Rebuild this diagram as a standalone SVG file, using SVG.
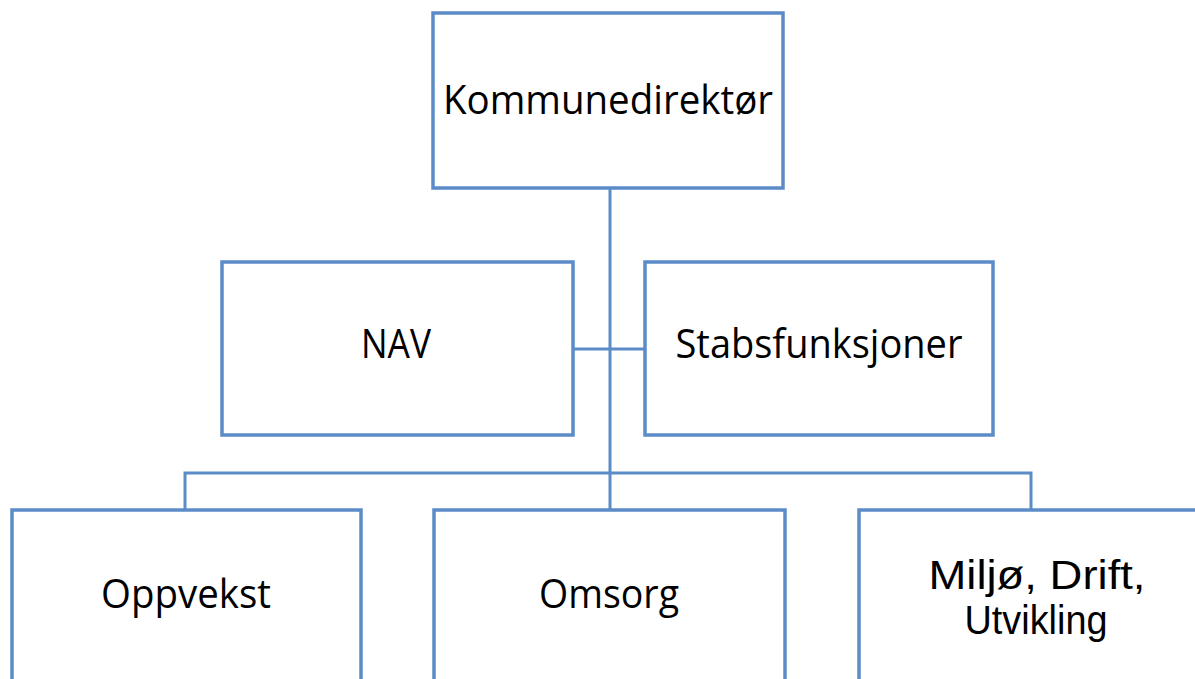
<svg xmlns="http://www.w3.org/2000/svg" width="1195" height="679" viewBox="0 0 1195 679">
<style>
.box{fill:#fff;stroke:#5B8CC8;stroke-width:3.5}
.con{fill:none;stroke:#5B8CC8;stroke-width:3}
text{font-family:"Open Sans","Liberation Sans",sans-serif;font-size:40px;fill:#000;text-anchor:middle}
text.tight{font-family:"Liberation Sans",sans-serif}
</style>
<rect width="1195" height="679" fill="#fff"/>
<g id="connectors">
<path class="con" d="M610 188 V510"/>
<path class="con" d="M573 349 H645"/>
<path class="con" d="M185 510 V473 H1031 V510"/>
</g>
<g id="kommunedirektor">
<rect class="box" x="433" y="13" width="350" height="175"/>
<text x="608" y="114" textLength="330" lengthAdjust="spacingAndGlyphs">Kommunedirektør</text>
</g>
<g id="nav">
<rect class="box" x="222" y="262" width="351" height="173"/>
<text x="396" y="358" textLength="70" lengthAdjust="spacingAndGlyphs">NAV</text>
</g>
<g id="stabsfunksjoner">
<rect class="box" x="645" y="262" width="348" height="173"/>
<text x="819" y="358" textLength="287" lengthAdjust="spacingAndGlyphs">Stabsfunksjoner</text>
</g>
<g id="oppvekst">
<rect class="box" x="12" y="510" width="349" height="190"/>
<text x="186" y="608" textLength="170" lengthAdjust="spacingAndGlyphs">Oppvekst</text>
</g>
<g id="omsorg">
<rect class="box" x="434" y="510" width="351" height="190"/>
<text x="609" y="608" textLength="140" lengthAdjust="spacingAndGlyphs">Omsorg</text>
</g>
<g id="miljo">
<rect class="box" x="859" y="510" width="360" height="190"/>
<text class="tight" x="1037" y="589" textLength="217" lengthAdjust="spacingAndGlyphs">Miljø, Drift,</text>
<text class="tight" x="1036" y="634" textLength="143" lengthAdjust="spacingAndGlyphs">Utvikling</text>
</g>
</svg>
